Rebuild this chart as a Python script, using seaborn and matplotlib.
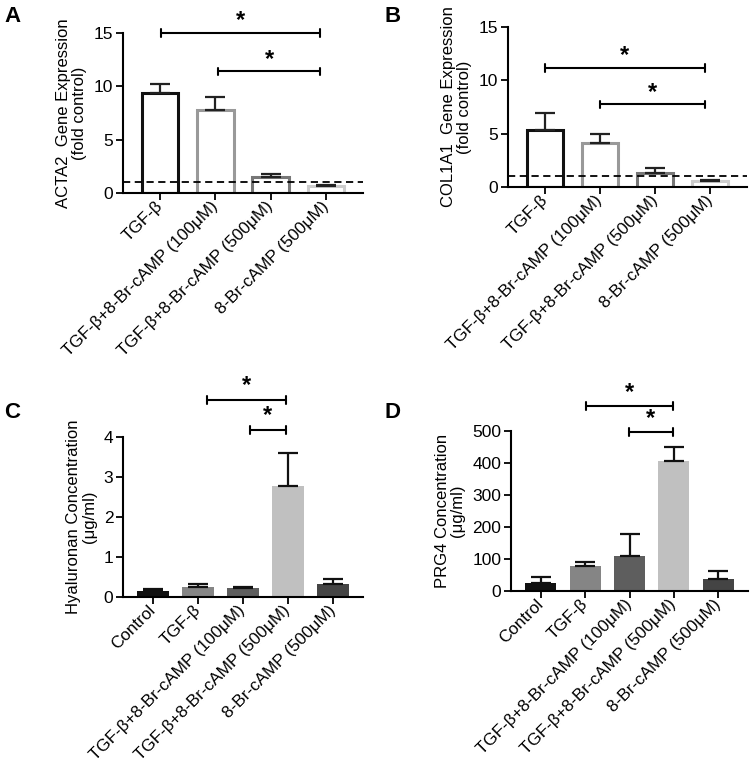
import matplotlib
matplotlib.use("Agg")
import matplotlib.pyplot as plt
import seaborn as sns
import numpy as np

sns.set_theme(style="ticks")
plt.rcParams['font.family'] = ['Liberation Sans', 'DejaVu Sans']
for k in ['text.color', 'axes.labelcolor', 'xtick.color', 'ytick.color', 'axes.edgecolor']:
    plt.rcParams[k] = 'black'

# ---- data ----
cats_ab = ["TGF-β", "TGF-β+8-Br-cAMP (100μM)", "TGF-β+8-Br-cAMP (500μM)", "8-Br-cAMP (500μM)"]
cats_cd = ["Control", "TGF-β", "TGF-β+8-Br-cAMP (100μM)", "TGF-β+8-Br-cAMP (500μM)", "8-Br-cAMP (500μM)"]

acta2_mean = [9.4, 7.8, 1.5, 0.65]
acta2_err = [0.8, 1.2, 0.3, 0.1]
col1a1_mean = [5.3, 4.15, 1.35, 0.6]
col1a1_err = [1.6, 0.85, 0.45, 0.1]
hyal_mean = [0.14, 0.26, 0.22, 2.78, 0.32]
hyal_err = [0.05, 0.06, 0.03, 0.82, 0.13]
prg4_mean = [25, 79, 109, 406, 38]
prg4_err = [19, 11, 68, 43, 24]

edge_ab = ["#111111", "#999999", "#777777", "#cccccc"]
fill_cd = ["#111111", "#858585", "#5e5e5e", "#c0c0c0", "#444444"]

fig = plt.figure(figsize=(7.5, 7.67), dpi=100)
W, H = 750, 767

def add_ax(l, r, b, t):
    return fig.add_axes([l / W, 1 - b / H, (r - l) / W, (b - t) / H])

axA = add_ax(123, 363, 193, 33)
axB = add_ax(508, 747, 187, 27)
axC = add_ax(123, 363, 597, 437)
axD = add_ax(511, 748, 591, 431)

XFS = 12.3
YFS = 12.5
LFS = 12

def style(ax, cats, ylim, yticks, ylabel):
    ax.set_ylim(*ylim)
    ax.set_yticks(yticks)
    ax.set_xlim(-0.67, len(cats) - 0.33)
    ax.set_xticks(range(len(cats)))
    ax.set_xticklabels(cats, rotation=45, ha='right', va='center',
                       rotation_mode='anchor', fontsize=XFS)
    ax.tick_params(axis='y', labelsize=YFS, length=5, width=1.3, direction='out', pad=2)
    ax.tick_params(axis='x', length=5, width=1.3, direction='out', pad=3)
    for s in ['top', 'right']:
        ax.spines[s].set_visible(False)
    for s in ['left', 'bottom']:
        ax.spines[s].set_linewidth(1.5)
        ax.spines[s].set_color('black')
    ax.set_xlabel("")
    ax.set_ylabel(ylabel, fontsize=LFS, linespacing=1.05, labelpad=5)
    ax.set_facecolor('white')

def bracket(ax, x1, x2, y, star_off, capfrac):
    h = capfrac
    ax.plot([x1, x2], [y, y], color='black', lw=1.5, clip_on=False)
    ax.plot([x1, x1], [y - h, y + h], color='black', lw=1.5, clip_on=False)
    ax.plot([x2, x2], [y - h, y + h], color='black', lw=1.5, clip_on=False)
    ax.text((x1 + x2) / 2, y + star_off, "*", ha='center', va='center',
            fontsize=17, fontweight='bold', clip_on=False)

# ---- A & B: hollow bars ----
for ax, mean, err, ylab in [(axA, acta2_mean, acta2_err, "ACTA2  Gene Expression\n(fold control)"),
                            (axB, col1a1_mean, col1a1_err, "COL1A1  Gene Expression\n(fold control)")]:
    sns.barplot(x=cats_ab, y=mean, hue=cats_ab, palette=edge_ab, fill=False,
                linewidth=2.2, width=0.66, errorbar=None, legend=False, ax=ax)
    for p, c in zip(ax.patches, edge_ab):
        p.set_edgecolor(c)
        p.set_facecolor('none')
    ax.errorbar(range(len(cats_ab)), mean, yerr=[np.zeros(len(mean)), err], fmt='none',
                ecolor='#222222', elinewidth=1.6, capsize=7, capthick=1.6, zorder=3)
    ax.axhline(1, color='black', lw=1.3, ls=(0, (4, 2.5)), zorder=4)
    style(ax, cats_ab, (0, 15), [0, 5, 10, 15], ylab)

bracket(axA, 0.02, 2.9, 15, 1.15, 0.35)
bracket(axA, 1.05, 2.9, 11.4, 1.15, 0.35)
bracket(axB, 0.0, 2.9, 11.15, 1.15, 0.35)
bracket(axB, 1.0, 2.9, 7.75, 1.15, 0.35)

# ---- C & D: filled bars ----
for ax, mean, err, ylim, yt, ylab in [
        (axC, hyal_mean, hyal_err, (0, 4), [0, 1, 2, 3, 4], "Hyaluronan Concentration\n(μg/ml)"),
        (axD, prg4_mean, prg4_err, (0, 500), [0, 100, 200, 300, 400, 500], "PRG4 Concentration\n(μg/ml)")]:
    sns.barplot(x=cats_cd, y=mean, hue=cats_cd, palette=fill_cd, saturation=1,
                linewidth=0, width=0.7, errorbar=None, legend=False, ax=ax)
    ax.errorbar(range(len(cats_cd)), mean, yerr=[np.zeros(len(mean)), err], fmt='none',
                ecolor='#111111', elinewidth=1.6, capsize=7, capthick=1.6, zorder=3)
    style(ax, cats_cd, ylim, yt, ylab)

bracket(axC, 1.2, 2.95, 4.93, 0.35, 0.1)
bracket(axC, 2.15, 2.95, 4.18, 0.35, 0.1)
bracket(axD, 1.03, 2.98, 578, 43, 12)
bracket(axD, 1.98, 2.98, 497, 43, 12)

# panel letters
for lbl, x, y in [("A", 4, 16), ("B", 384, 16), ("C", 4, 412), ("D", 384, 412)]:
    fig.text(x / W, 1 - y / H, lbl, fontsize=16, fontweight='bold', ha='left', va='center')

fig.savefig("out.png", dpi=100, facecolor='white')
